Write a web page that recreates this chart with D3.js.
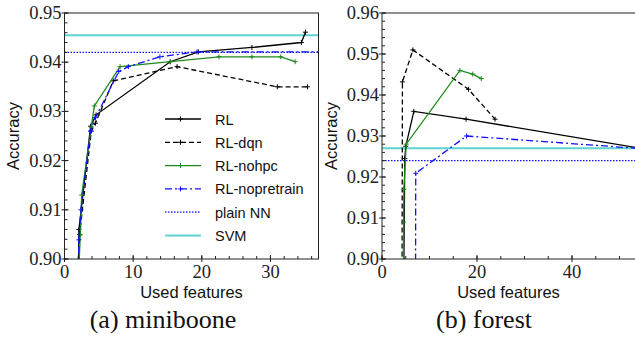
<!DOCTYPE html>
<html>
<head>
<meta charset="utf-8">
<script src="https://cdn.jsdelivr.net/npm/d3@7/dist/d3.min.js"></script>
<style>
  body { margin: 0; background: #fff; }
  svg { display: block; }
  .tick-label { font-family: "Liberation Serif", serif; font-size: 18.5px; fill: #222; }
  .axis-title { font-family: "Liberation Sans", sans-serif; font-size: 16.5px; fill: #111; }
  .legend-label { font-family: "Liberation Sans", sans-serif; font-size: 14.5px; fill: #111; }
  .caption { font-family: "Liberation Serif", serif; font-size: 26px; fill: #111; }
</style>
</head>
<body>
<svg id="chart" width="635" height="339"></svg>
<script>
// (a) miniboone
const mbRL = [[2.0, 0.895], [2.1, 0.906], [3.8, 0.927], [4.6, 0.9293], [15.4, 0.9401], [19.5, 0.9421], [27.3, 0.943], [34.5, 0.944], [35.1, 0.9461]];
const mbDqn = [[2.0, 0.895], [2.2, 0.905], [3.9, 0.926], [4.5, 0.9276], [7.1, 0.9362], [16.4, 0.9391], [31.0, 0.935], [35.4, 0.935]];
const mbNohpc = [[2.0, 0.895], [2.3, 0.9049], [2.5, 0.913], [3.9, 0.9268], [4.35, 0.9311], [8.1, 0.9391], [15.4, 0.9401], [22.5, 0.9411], [27.3, 0.9411], [31.5, 0.9411], [33.6, 0.9401]];
const mbNopretrain = [[2.0, 0.895], [2.1, 0.9039], [2.4, 0.910], [3.8, 0.926], [4.5, 0.9287], [7.9, 0.9381], [9.3, 0.9391], [13.9, 0.9411], [19.3, 0.9421], [40, 0.9421]];
const mbPlainNN = 0.942;
const mbSVM = 0.9455;

// (b) forest
const fRL = [[4.5, 0.885], [4.8, 0.9245], [5.0, 0.9275], [6.7, 0.936], [17.7, 0.9341], [54, 0.9271]];
const fDqn = [[4.2, 0.885], [4.3, 0.9432], [6.5, 0.951], [18.2, 0.9414], [23.8, 0.9341]];
const fNohpc = [[4.4, 0.885], [4.55, 0.909], [4.6, 0.917], [5.1, 0.928], [16.4, 0.946], [19.1, 0.9451], [20.9, 0.944]];
const fNopretrain = [[7.05, 0.885], [7.1, 0.9209], [17.8, 0.930], [56, 0.9268]];
const fPlainNN = 0.924;
const fSVM = 0.927;

const seriesNames = ['RL', 'RL-dqn', 'RL-nohpc', 'RL-nopretrain', 'plain NN', 'SVM'];

const styles = {
  'RL': { color: '#000000', dash: null, width: 1.3, marker: true },
  'RL-dqn': { color: '#000000', dash: '5,3', width: 1.3, marker: true },
  'RL-nohpc': { color: '#1f8a1f', dash: null, width: 1.3, marker: true },
  'RL-nopretrain': { color: '#1010ff', dash: '7,3,2,3', width: 1.3, marker: true },
  'plain NN': { color: '#1010ff', dash: '1.5,1.5', width: 1.2, marker: false },
  'SVM': { color: '#5fd3d3', dash: null, width: 2, marker: false }
};

const svg = d3.select('#chart');

function drawPanel(cfg) {
  const x = d3.scaleLinear().domain(cfg.xDomain).range(cfg.xRange);
  const y = d3.scaleLinear().domain(cfg.yDomain).range([259, 13]);
  const g = svg.append('g');

  g.append('clipPath').attr('id', cfg.id)
    .append('rect')
    .attr('x', cfg.xRange[0]).attr('y', 13)
    .attr('width', cfg.xRange[1] - cfg.xRange[0]).attr('height', 246);

  const plot = g.append('g').attr('clip-path', `url(#${cfg.id})`);

  const line = d3.line().x((d) => x(d[0])).y((d) => y(d[1]));

  // horizontal baselines
  [['SVM', cfg.svm], ['plain NN', cfg.plain]].forEach(([name, v]) => {
    const s = styles[name];
    plot.append('line')
      .attr('x1', cfg.xRange[0]).attr('x2', cfg.xRange[1])
      .attr('y1', y(v)).attr('y2', y(v))
      .attr('stroke', s.color).attr('stroke-width', s.width)
      .attr('stroke-dasharray', s.dash);
  });

  cfg.series.forEach(([name, data]) => {
    const s = styles[name];
    plot.append('path')
      .datum(data)
      .attr('d', line)
      .attr('fill', 'none')
      .attr('stroke', s.color)
      .attr('stroke-width', s.width)
      .attr('stroke-dasharray', s.dash);
    plot.append('g').selectAll('path')
      .data(data)
      .join('path')
      .attr('d', (d) => `M${x(d[0]) - 2.5},${y(d[1])}h5M${x(d[0])},${y(d[1]) - 2.5}v5`)
      .attr('stroke', s.color)
      .attr('stroke-width', 1);
  });

  // frame
  g.append('rect')
    .attr('x', cfg.xRange[0]).attr('y', 13)
    .attr('width', cfg.xRange[1] - cfg.xRange[0]).attr('height', 246)
    .attr('fill', 'none').attr('stroke', '#222').attr('stroke-width', 1);

  // y ticks
  const yMinor = d3.range(cfg.yDomain[0], cfg.yDomain[1] + 1e-9, 0.002);
  g.append('g').selectAll('line').data(yMinor).join('line')
    .attr('x1', cfg.xRange[0]).attr('x2', cfg.xRange[0] + 3)
    .attr('y1', (d) => y(d)).attr('y2', (d) => y(d))
    .attr('stroke', '#222');
  g.append('g').selectAll('line').data(cfg.yTicks).join('line')
    .attr('x1', cfg.xRange[0] - 3).attr('x2', cfg.xRange[0] + 4)
    .attr('y1', (d) => y(d)).attr('y2', (d) => y(d))
    .attr('stroke', '#222');
  g.append('g').selectAll('text').data(cfg.yTicks).join('text')
    .attr('class', 'tick-label')
    .attr('x', cfg.xRange[0] - 3)
    .attr('y', (d) => y(d) + 6)
    .attr('text-anchor', 'end')
    .text((d) => d3.format('.2f')(d));

  // x ticks
  const xMinor = d3.range(cfg.xDomain[0], cfg.xDomain[1] + 1e-9, cfg.xMinorStep);
  g.append('g').selectAll('line').data(xMinor).join('line')
    .attr('x1', (d) => x(d)).attr('x2', (d) => x(d))
    .attr('y1', 259).attr('y2', 256)
    .attr('stroke', '#222');
  g.append('g').selectAll('line').data(cfg.xTicks).join('line')
    .attr('x1', (d) => x(d)).attr('x2', (d) => x(d))
    .attr('y1', 262).attr('y2', 255)
    .attr('stroke', '#222');
  g.append('g').selectAll('text').data(cfg.xTicks).join('text')
    .attr('class', 'tick-label')
    .attr('x', (d) => x(d))
    .attr('y', 278)
    .attr('text-anchor', 'middle')
    .text((d) => d);

  g.append('text')
    .attr('class', 'axis-title')
    .attr('x', (cfg.xRange[0] + Math.min(cfg.xRange[1], 635)) / 2)
    .attr('y', 298)
    .attr('text-anchor', 'middle')
    .text('Used features');

  g.append('text')
    .attr('class', 'axis-title')
    .attr('transform', `translate(${cfg.yTitleX},136) rotate(-90)`)
    .attr('text-anchor', 'middle')
    .text('Accuracy');

  g.append('text')
    .attr('class', 'caption')
    .attr('x', cfg.captionX)
    .attr('y', 328)
    .attr('text-anchor', 'middle')
    .text(cfg.caption);
}

drawPanel({
  id: 'clip-a',
  xDomain: [0, 37], xRange: [64.5, 318.5],
  yDomain: [0.90, 0.95],
  xTicks: [0, 10, 20, 30], yTicks: [0.90, 0.91, 0.92, 0.93, 0.94, 0.95],
  xMinorStep: 2,
  series: [['RL', mbRL], ['RL-dqn', mbDqn], ['RL-nohpc', mbNohpc], ['RL-nopretrain', mbNopretrain]],
  plain: mbPlainNN, svm: mbSVM,
  yTitleX: 19, captionX: 163, caption: '(a) miniboone'
});

drawPanel({
  id: 'clip-b',
  xDomain: [0, 54], xRange: [382, 638.5],
  yDomain: [0.90, 0.96],
  xTicks: [0, 20, 40], yTicks: [0.90, 0.91, 0.92, 0.93, 0.94, 0.95, 0.96],
  xMinorStep: 5,
  series: [['RL', fRL], ['RL-dqn', fDqn], ['RL-nohpc', fNohpc], ['RL-nopretrain', fNopretrain]],
  plain: fPlainNN, svm: fSVM,
  yTitleX: 337, captionX: 484, caption: '(b) forest'
});

// legend (panel a)
const legend = svg.append('g');
seriesNames.forEach((name, i) => {
  const s = styles[name];
  const cy = 119 + i * 23.3;
  legend.append('line')
    .attr('x1', 165).attr('x2', 201).attr('y1', cy).attr('y2', cy)
    .attr('stroke', s.color).attr('stroke-width', s.width)
    .attr('stroke-dasharray', s.dash);
  if (s.marker) {
    legend.append('path')
      .attr('d', `M180.5,${cy - 2.5}v5M178,${cy}h5`)
      .attr('stroke', s.color);
  }
  legend.append('text')
    .attr('class', 'legend-label')
    .attr('x', 215).attr('y', cy + 5.5)
    .text(name);
});
</script>
</body>
</html>
